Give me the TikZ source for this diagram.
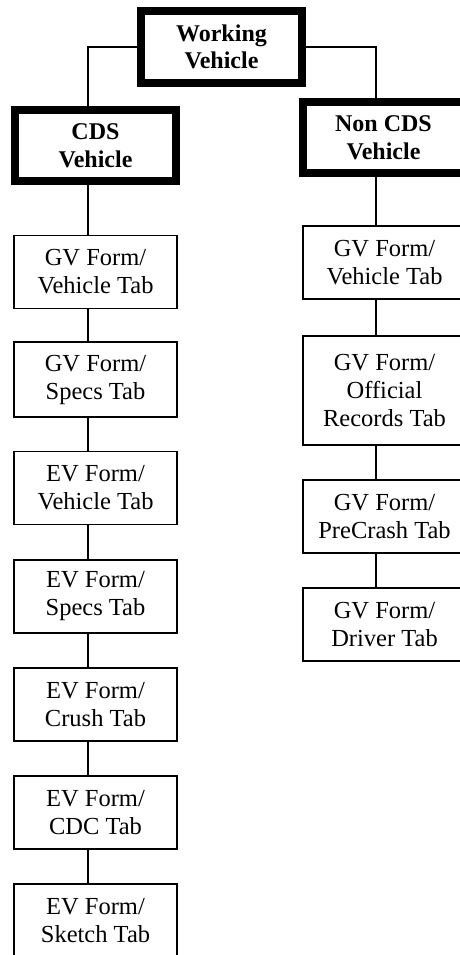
\documentclass[tikz,border=0pt]{standalone}
\usepackage{fontspec}
\setmainfont{Liberation Serif}
\begin{document}
\begin{tikzpicture}[x=1pt,y=-1pt,
  tab/.style={draw, line width=1.6pt, minimum width=163pt, minimum height=73pt,
    align=center, inner sep=0pt, font=\fontsize{24.5}{28}\selectfont},
  head/.style={draw, line width=8pt, minimum width=161pt, minimum height=72pt,
    align=center, inner sep=0pt, font=\fontsize{24}{27.5}\selectfont\bfseries},
  link/.style={line width=1.6pt}]
\useasboundingbox (0,0) rectangle (460,955);
\clip (0,0) rectangle (460,955);
\node[head] (wv) at (221.5,47) {Working\\Vehicle};
\node[head, minimum height=71pt] (cds) at (95.5,145.5) {CDS\\Vehicle};
\node[head, minimum height=71pt] (ncds) at (383.5,137.5) {Non CDS\\Vehicle};
\coordinate (lx) at (88,0);
\coordinate (rx) at (376,0);
% left column
\node[tab] (l1) at (95.5,272) {GV Form/\\Vehicle Tab};
\node[tab, minimum height=75pt] (l2) at (95.5,379.5) {GV Form/\\Specs Tab};
\node[tab] (l3) at (95.5,488) {EV Form/\\Vehicle Tab};
\node[tab] (l4) at (95.5,596.5) {EV Form/\\Specs Tab};
\node[tab] (l5) at (95.5,704.5) {EV Form/\\Crush Tab};
\node[tab] (l6) at (95.5,812.5) {EV Form/\\CDC Tab};
\node[tab] (l7) at (95.5,920.5) {EV Form/\\Sketch Tab};
% right column
\node[tab] (r1) at (384.5,262.5) {GV Form/\\Vehicle Tab};
\node[tab, minimum height=109pt] (r2) at (384.5,390.5) {GV Form/\\Official\\Records Tab};
\node[tab] (r3) at (384.5,516.5) {GV Form/\\PreCrash Tab};
\node[tab] (r4) at (384.5,624.5) {GV Form/\\Driver Tab};
% connectors
\draw[link] (wv.west) -| (cds.north -| lx);
\draw[link] (wv.east) -| (ncds.north -| rx);
\draw[link] (cds.south -| lx) -- (l1.north -| lx);
\draw[link] (l1.south -| lx) -- (l2.north -| lx);
\draw[link] (l2.south -| lx) -- (l3.north -| lx);
\draw[link] (l3.south -| lx) -- (l4.north -| lx);
\draw[link] (l4.south -| lx) -- (l5.north -| lx);
\draw[link] (l5.south -| lx) -- (l6.north -| lx);
\draw[link] (l6.south -| lx) -- (l7.north -| lx);
\draw[link] (ncds.south -| rx) -- (r1.north -| rx);
\draw[link] (r1.south -| rx) -- (r2.north -| rx);
\draw[link] (r2.south -| rx) -- (r3.north -| rx);
\draw[link] (r3.south -| rx) -- (r4.north -| rx);
\end{tikzpicture}
\end{document}
